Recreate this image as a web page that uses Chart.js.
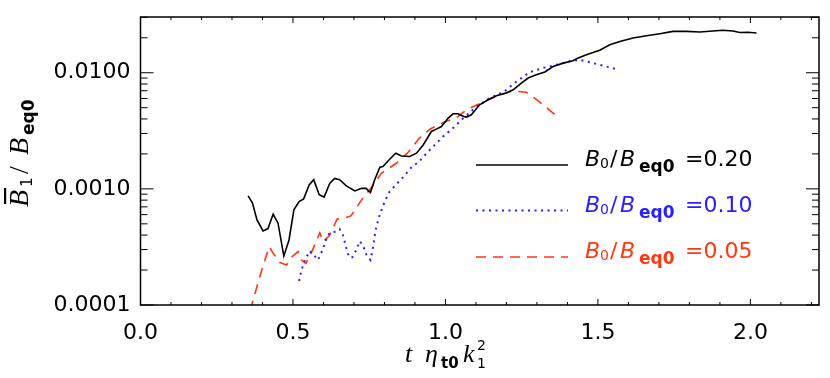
<!DOCTYPE html>
<html>
<head>
<meta charset="utf-8">
<script src="https://cdn.jsdelivr.net/npm/chart.js@4.4.1/dist/chart.umd.min.js"></script>
<style>
  body { margin: 0; background: #fff; }
  #wrap { width: 830px; height: 378px; }
</style>
</head>
<body>
<div id="wrap"><canvas id="chart"></canvas></div>
<script>
// B0/Beq0 = 0.20 (black, solid)
const t20 = [0.353, 0.367, 0.382, 0.402, 0.418, 0.435, 0.451, 0.470, 0.487, 0.503, 0.520, 0.535, 0.553, 0.568, 0.586, 0.602,
  0.621, 0.637, 0.653, 0.675, 0.703, 0.725, 0.740, 0.748, 0.754, 0.768, 0.785, 0.795, 0.817, 0.837, 0.856, 0.883, 0.905,
  0.927, 0.954, 0.970, 0.987, 1.009, 1.025, 1.041, 1.060, 1.069, 1.085, 1.112, 1.140, 1.167, 1.200, 1.222, 1.249, 1.271,
  1.298, 1.326, 1.353, 1.386, 1.418, 1.430, 1.462, 1.506, 1.539, 1.572, 1.615, 1.659, 1.703, 1.746, 1.790, 1.834, 1.877,
  1.910, 1.943, 1.965, 1.992, 2.020];
const b20 = [0.00087, 0.00076, 0.00054, 0.000435, 0.000455, 0.000605, 0.000506, 0.000264, 0.000363, 0.000659, 0.000778,
  0.00082, 0.00108, 0.0012, 0.00089, 0.00085, 0.00112, 0.00123, 0.0012, 0.00106, 0.00096, 0.00101, 0.00101, 0.00096,
  0.00093, 0.0012, 0.00154, 0.00156, 0.0018, 0.00203, 0.00192, 0.0019, 0.00203, 0.00239, 0.00312, 0.00327, 0.00344,
  0.00407, 0.00443, 0.00443, 0.0042, 0.00415, 0.00434, 0.0053, 0.00585, 0.00634, 0.00668, 0.00713, 0.00815, 0.009,
  0.0096, 0.01014, 0.0113, 0.0121, 0.0127, 0.0132, 0.0143, 0.0156, 0.0174, 0.0186, 0.0199, 0.0208, 0.0217, 0.0227,
  0.0227, 0.0224, 0.0229, 0.0232, 0.0229, 0.0222, 0.0223, 0.022];

// B0/Beq0 = 0.10 (blue, dotted)
const t10 = [0.520, 0.528, 0.539, 0.555, 0.571, 0.582, 0.597, 0.610, 0.621, 0.640, 0.653, 0.664, 0.675, 0.684, 0.695,
  0.708, 0.719, 0.732, 0.741, 0.754, 0.763, 0.771, 0.785, 0.801, 0.817, 0.837, 0.861, 0.888, 0.914, 0.938, 0.965, 0.992,
  1.025, 1.058, 1.102, 1.145, 1.189, 1.233, 1.276, 1.320, 1.364, 1.418, 1.446, 1.484, 1.528, 1.569];
const b10 = [0.000161, 0.0002, 0.000244, 0.000292, 0.000264, 0.000244, 0.000298, 0.000376, 0.00042, 0.000428, 0.00045,
  0.0004, 0.000308, 0.000258, 0.000258, 0.000298, 0.000355, 0.000314, 0.00027, 0.000244, 0.000318, 0.000443, 0.000605,
  0.00078, 0.00095, 0.00108, 0.00126, 0.00153, 0.00172, 0.00203, 0.00239, 0.00282, 0.00334, 0.00405, 0.0051, 0.00605,
  0.00677, 0.0084, 0.0101, 0.011, 0.0117, 0.0128, 0.0128, 0.0121, 0.0113, 0.0106];

// B0/Beq0 = 0.05 (red, dashed)
const t05 = [0.360, 0.391, 0.408, 0.422, 0.435, 0.457, 0.479, 0.495, 0.517, 0.528, 0.542, 0.560, 0.588, 0.599, 0.619,
  0.645, 0.669, 0.690, 0.725, 0.755, 0.790, 0.840, 0.875, 0.915, 0.950, 1.000, 1.036, 1.069, 1.140, 1.170, 1.210, 1.240,
  1.265, 1.300, 1.340, 1.360];
const b05 = [0.00009, 0.000175, 0.000244, 0.000318, 0.000279, 0.000232, 0.000221, 0.000258, 0.000288, 0.000244, 0.000228,
  0.00028, 0.000417, 0.000351, 0.000394, 0.000551, 0.00056, 0.000585, 0.000804, 0.00101, 0.00136, 0.00167, 0.00203,
  0.00274, 0.00328, 0.0038, 0.0041, 0.0048, 0.00585, 0.0063, 0.0069, 0.0069, 0.0068, 0.00585, 0.0048, 0.00434];

const xTicks = [0, 0.5, 1.0, 1.5, 2.0];
const yTicks = [0.0001, 0.001, 0.01];
const ratios = ['0.20', '0.10', '0.05'];

const colors = ['#000000', '#2a20ff', '#ff3814'];
const toPoints = (ts, bs) => ts.map((t, i) => ({ x: t, y: bs[i] }));

const sans = '"DejaVu Sans"';
const serif = '"Liberation Serif"';

// draws a row of text pieces, each with its own font and offset
function drawRuns(ctx, x0, y0, runs, color) {
  ctx.fillStyle = color;
  ctx.textBaseline = 'alphabetic';
  ctx.textAlign = 'left';
  runs.forEach(r => {
    ctx.font = r.f;
    ctx.fillText(r.t, x0 + r.x, y0 + (r.dy || 0));
  });
}

const frame = {
  id: 'frame',
  afterDatasetsDraw(chart) {
    const { ctx, chartArea: a, scales: { x, y } } = chart;
    ctx.save();
    ctx.strokeStyle = '#000';
    ctx.lineWidth = 1;
    const seg = (x1, y1, x2, y2) => { ctx.beginPath(); ctx.moveTo(x1, y1); ctx.lineTo(x2, y2); ctx.stroke(); };

    // x ticks, bottom and top, pointing inward
    for (let i = 0; i <= 22; i++) {
      const px = x.getPixelForValue(i / 10);
      const len = i % 5 === 0 ? 6 : 3;
      seg(px, a.bottom, px, a.bottom - len);
      seg(px, a.top, px, a.top + len);
    }
    // y ticks (log minors), left and right
    for (let e = -4; e <= -2; e++) {
      for (let k = 1; k <= 9; k++) {
        const v = k * Math.pow(10, e);
        if (v > y.max) break;
        const py = y.getPixelForValue(v);
        const len = k === 1 ? 13 : 7;
        seg(a.left, py, a.left + len, py);
        seg(a.right, py, a.right - len, py);
      }
    }
    ctx.lineWidth = 1.5;
    ctx.strokeRect(a.left, a.top, a.right - a.left, a.bottom - a.top);

    // legend
    const rows = [166, 211.5, 258];
    chart.data.datasets.forEach((ds, i) => {
      const ly = rows[i];
      ctx.strokeStyle = ds.borderColor;
      ctx.lineWidth = ds.borderWidth;
      ctx.setLineDash(ds.borderDash || []);
      seg(476, ly - 1, 568, ly - 1);
      ctx.setLineDash([]);
      drawRuns(ctx, 585, ly, [
        { t: 'B', f: `italic 22px ${sans}`, x: 0 },
        { t: '0', f: `14px ${sans}`, x: 15, dy: 2 },
        { t: '/', f: `22px ${sans}`, x: 25 },
        { t: 'B', f: `italic 22px ${sans}`, x: 35 },
        { t: 'eq0', f: `bold 17px ${sans}`, x: 54, dy: 6 },
        { t: '=' + ratios[i], f: `22px ${sans}`, x: 100 }
      ], ds.borderColor);
    });

    // y axis title, rotated
    ctx.save();
    ctx.translate(28, 207);
    ctx.rotate(-Math.PI / 2);
    drawRuns(ctx, 0, 0, [
      { t: 'B', f: `italic 28px ${serif}`, x: 0 },
      { t: '1', f: `15px ${sans}`, x: 20, dy: 4 },
      { t: '/', f: `28px ${serif}`, x: 33 },
      { t: 'B', f: `italic 28px ${serif}`, x: 52 },
      { t: 'eq0', f: `bold 17px ${sans}`, x: 72, dy: 6 }
    ], '#000');
    ctx.fillRect(3, -24, 16, 2.2);
    ctx.restore();

    // x axis title
    drawRuns(ctx, 405, 362, [
      { t: 't', f: `italic 26px ${serif}`, x: 0 },
      { t: 'η', f: `italic 26px ${serif}`, x: 20 },
      { t: 't0', f: `bold 15px ${sans}`, x: 36, dy: 6 },
      { t: 'k', f: `italic 26px ${serif}`, x: 58 },
      { t: '1', f: `14px ${sans}`, x: 72, dy: 6 },
      { t: '2', f: `14px ${sans}`, x: 72, dy: -12 }
    ], '#000');
    ctx.restore();
  }
};

new Chart(document.getElementById('chart'), {
  type: 'line',
  data: {
    datasets: [
      { data: toPoints(t20, b20), borderColor: colors[0], borderWidth: 1.6, pointRadius: 0, tension: 0 },
      { data: toPoints(t10, b10), borderColor: colors[1], borderWidth: 2, borderDash: [2, 4.5], pointRadius: 0, tension: 0 },
      { data: toPoints(t05, b05), borderColor: colors[2], borderWidth: 1.6, borderDash: [10, 7], pointRadius: 0, tension: 0 }
    ]
  },
  options: {
    responsive: true,
    maintainAspectRatio: false,
    animation: false,
    events: [],
    layout: { padding: { left: 0, right: 11, top: 17, bottom: 0 } },
    plugins: { legend: { display: false }, tooltip: { enabled: false } },
    scales: {
      x: {
        type: 'linear',
        min: 0,
        max: 2.225,
        grid: { display: false, drawTicks: false },
        border: { display: false },
        afterBuildTicks: s => { s.ticks = xTicks.map(v => ({ value: v })); },
        afterFit: s => { s.height = 73; s.paddingLeft = 0; s.paddingRight = 0; },
        ticks: {
          padding: 15,
          color: '#000',
          font: { family: 'DejaVu Sans', size: 22 },
          maxRotation: 0,
          callback: v => v.toFixed(1)
        }
      },
      y: {
        type: 'logarithmic',
        min: 0.0001,
        max: 0.0302,
        grid: { display: false, drawTicks: false },
        border: { display: false },
        afterBuildTicks: s => { s.ticks = yTicks.map(v => ({ value: v })); },
        afterFit: s => { s.width = 140.5; s.paddingTop = 0; s.paddingBottom = 0; },
        ticks: {
          padding: 10,
          color: '#000',
          font: { family: 'DejaVu Sans', size: 22 },
          callback: v => v.toFixed(4)
        }
      }
    }
  },
  plugins: [frame]
});
</script>
</body>
</html>
